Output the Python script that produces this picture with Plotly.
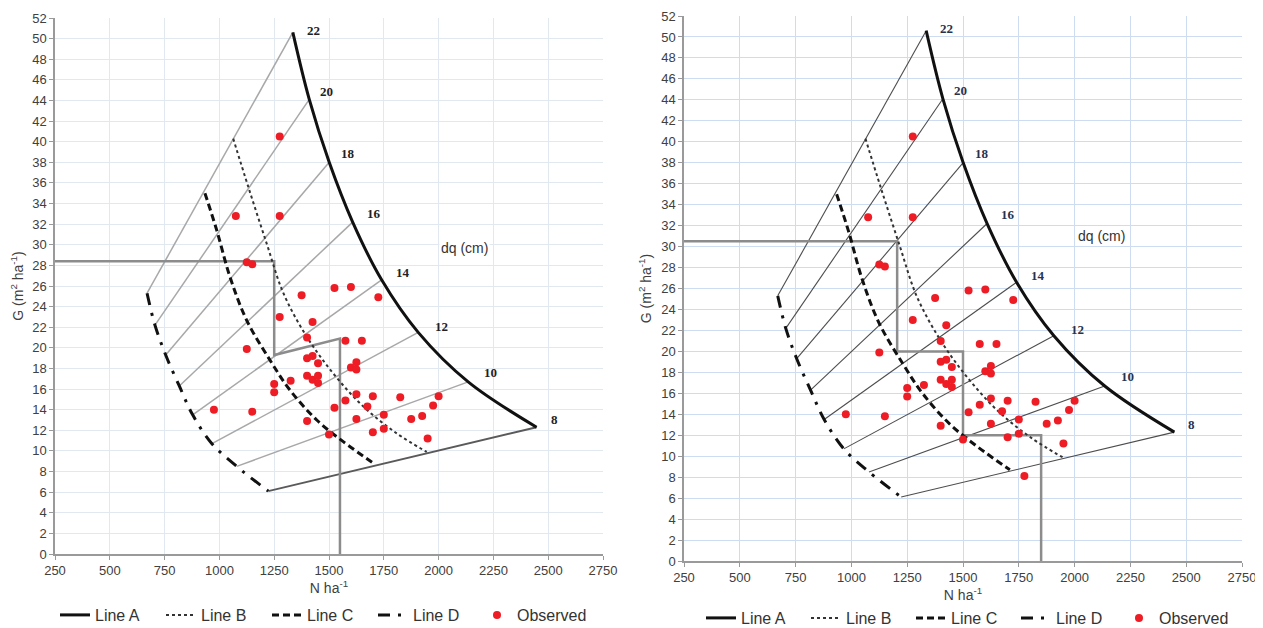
import plotly.graph_objects as go

# ---------------- data ----------------
dq_labels = ["22", "20", "18", "16", "14", "12", "10", "8"]

# Line A (upper limit curve) points at each dq isoline
lineA_N = [1335, 1410, 1501, 1608, 1740, 1907, 2135, 2447]
lineA_G = [50.6, 44.1, 38.0, 32.2, 26.6, 21.5, 16.7, 12.3]

# Line D (lower limit curve) points at each dq isoline
lineD_N = [670, 706, 755, 817, 878, 966, 1079, 1223]
lineD_G = [25.3, 22.2, 19.3, 16.3, 13.5, 10.7, 8.5, 6.1]

# Line B (dotted)
lineB_N = [1063, 1132, 1216, 1292, 1398, 1520, 1657, 1809, 1946]
lineB_G = [40.3, 35.6, 30.1, 25.3, 21.1, 17.5, 14.3, 11.7, 9.9]

# Line C (dashed)
lineC_N = [934, 988, 1048, 1124, 1231, 1322, 1444, 1565, 1710]
lineC_G = [35.0, 31.4, 26.9, 22.7, 18.8, 15.9, 13.0, 10.9, 8.7]

# Observed plots
obs_N = [1275, 1075, 1275, 1125, 1150, 1375, 1275, 1425, 1400, 1125,
         1400, 1425, 1450, 1400, 1325, 1250, 1250, 1425, 1450, 1450,
         975, 1150, 1400, 1575, 1650, 1625, 1600, 1625, 1625, 1700,
         1575, 1825, 2000, 1975, 1525, 1675, 1750, 1875, 1925, 1625,
         1750, 1700, 1500, 1950, 1525, 1600, 1725]
obs_G = [40.5, 32.8, 32.8, 28.3, 28.1, 25.1, 23.0, 22.5, 21.0, 19.9,
         19.0, 19.2, 18.5, 17.3, 16.8, 16.5, 15.7, 16.9, 17.3, 16.6,
         14.0, 13.8, 12.9, 20.7, 20.7, 18.6, 18.1, 17.9, 15.5, 15.3,
         14.9, 15.2, 15.3, 14.4, 14.2, 14.3, 13.5, 13.1, 13.4, 13.1,
         12.15, 11.8, 11.6, 11.2, 25.8, 25.9, 24.9]
extra_obs_N = [1775]   # only in right chart
extra_obs_G = [8.1]

# Management guides
guideL_N = [250, 1250, 1250, 1550, 1550]
guideL_G = [28.4, 28.4, 19.3, 20.9, 0]
guideR_N = [250, 1205, 1205, 1500, 1500, 1850, 1850]
guideR_G = [30.5, 30.5, 20.0, 20.0, 12.0, 12.0, 0]

# page body has an 8px margin -> draw a slightly smaller figure, offset positions
OFF = 8
W, H = 1263 - OFF, 628 - OFF


def fx(px):
    return (px - OFF) / W


def fy(py):
    return 1 - (py - OFF) / H


fig = go.Figure()


def iso_xy(idx):
    xs, ys = [], []
    for i in idx:
        xs += [lineD_N[i], lineA_N[i], None]
        ys += [lineD_G[i], lineA_G[i], None]
    return xs, ys


def add_panel(xa, ya, leg, leg_obs, iso_color, iso_w, bottom_color, bottom_w,
              guide_N, guide_G, pts_N, pts_G):
    xs, ys = iso_xy(range(len(dq_labels) - 1))
    fig.add_trace(go.Scatter(x=xs, y=ys, mode="lines", xaxis=xa, yaxis=ya,
                             line=dict(color=iso_color, width=iso_w),
                             showlegend=False, hoverinfo="skip"))
    xs, ys = iso_xy([len(dq_labels) - 1])
    fig.add_trace(go.Scatter(x=xs, y=ys, mode="lines", xaxis=xa, yaxis=ya,
                             line=dict(color=bottom_color, width=bottom_w),
                             showlegend=False, hoverinfo="skip"))
    fig.add_trace(go.Scatter(x=guide_N, y=guide_G, mode="lines", xaxis=xa, yaxis=ya,
                             line=dict(color="#8c8c8c", width=2.5),
                             showlegend=False, hoverinfo="skip"))
    fig.add_trace(go.Scatter(x=lineA_N, y=lineA_G, mode="lines", name="Line A",
                             xaxis=xa, yaxis=ya, legend=leg,
                             line=dict(color="#111111", width=3, shape="spline")))
    fig.add_trace(go.Scatter(x=lineB_N, y=lineB_G, mode="lines", name="Line B",
                             xaxis=xa, yaxis=ya, legend=leg,
                             line=dict(color="#333333", width=2, dash="dot", shape="spline")))
    fig.add_trace(go.Scatter(x=lineC_N, y=lineC_G, mode="lines", name="Line C",
                             xaxis=xa, yaxis=ya, legend=leg,
                             line=dict(color="#111111", width=3, dash="7px,4px", shape="spline")))
    fig.add_trace(go.Scatter(x=lineD_N, y=lineD_G, mode="lines", name="Line D",
                             xaxis=xa, yaxis=ya, legend=leg,
                             line=dict(color="#111111", width=3, dash="12px,8px,3px,8px",
                                       shape="spline")))
    fig.add_trace(go.Scatter(x=pts_N, y=pts_G, mode="markers", name="Observed",
                             xaxis=xa, yaxis=ya, legend=leg_obs,
                             marker=dict(color="#ee1c24", size=8)))


add_panel("x", "y", "legend", "legend3", "#a8a8a8", 1.5, "#5a5a5a", 2,
          guideL_N, guideL_G, obs_N, obs_G)
add_panel("x2", "y2", "legend2", "legend4", "#4d4d4d", 1.1, "#4d4d4d", 1.1,
          guideR_N, guideR_G, obs_N + extra_obs_N, obs_G + extra_obs_G)

# dq labels
shifts = [(12, 2), (9, 8), (10, 9), (12, 9), (12, 7), (15, 6), (14, 9), (12, 8)]
annotations = []
for xr, yr, col in (("x", "y", "#222222"), ("x2", "y2", "#26324f")):
    for i, lab in enumerate(dq_labels):
        annotations.append(dict(x=lineA_N[i], y=lineA_G[i], xref=xr, yref=yr,
                                text=lab, showarrow=False,
                                xanchor="left", yanchor="middle",
                                xshift=shifts[i][0], yshift=shifts[i][1],
                                font=dict(family="Liberation Serif", size=13, color=col,
                                          weight="bold")))
annotations.append(dict(x=2120, y=29.7, xref="x", yref="y", text="dq (cm)",
                        showarrow=False, bgcolor="white",
                        font=dict(family="Liberation Sans", size=14, color="#333333")))
annotations.append(dict(x=2121, y=31.0, xref="x2", yref="y2", text="dq (cm)",
                        showarrow=False, bgcolor="white",
                        font=dict(family="Liberation Sans", size=14, color="#333333")))

tickfont = dict(family="Liberation Sans", size=13, color="#404040")
titlefont = dict(family="Liberation Sans", size=14, color="#404040")


def xaxis(domain, grid, anchor):
    return dict(domain=domain, range=[250, 2750], dtick=250, tick0=250,
                showgrid=True, gridcolor=grid, gridwidth=1,
                showline=True, linecolor="#9a9a9a", linewidth=1.5,
                ticks="outside", ticklen=4, tickcolor="#9a9a9a",
                tickfont=tickfont, zeroline=False, anchor=anchor, automargin=False,
                title=dict(text="N ha<sup>-1</sup>", font=titlefont, standoff=6))


def yaxis(domain, grid, anchor):
    return dict(domain=domain, range=[0, 52], dtick=2,
                showgrid=True, gridcolor=grid, gridwidth=1,
                showline=True, linecolor="#9a9a9a", linewidth=1.5,
                ticks="outside", ticklen=4, tickcolor="#9a9a9a",
                tickfont=tickfont, zeroline=False, anchor=anchor, automargin=False,
                title=dict(text="G (m<sup>2</sup> ha<sup>-1</sup>)", font=titlefont, standoff=6))


legfont = dict(family="Liberation Sans", size=16, color="#333333")


def legend(xpx, ypx, ew=None):
    d = dict(orientation="h", x=fx(xpx), y=fy(ypx), yanchor="middle", xanchor="left",
             font=legfont, bgcolor="rgba(0,0,0,0)")
    if ew:
        d.update(entrywidth=ew, entrywidthmode="pixels")
    return d


fig.update_layout(
    width=W, height=H,
    margin=dict(l=0, r=0, t=0, b=0, autoexpand=False),
    paper_bgcolor="white", plot_bgcolor="white",
    xaxis=xaxis([fx(55), fx(603)], "#e2e8f0", "y"),
    yaxis=yaxis([fy(554), fy(18)], "#e2e8f0", "x"),
    xaxis2=xaxis([fx(684), fx(1242)], "#cddcf0", "y2"),
    yaxis2=yaxis([fy(561), fy(16)], "#cddcf0", "x2"),
    annotations=annotations,
    legend=legend(55, 615, 61),
    legend2=legend(701, 618, 60),
    legend3=legend(477, 615),
    legend4=legend(1119, 618),
    showlegend=True,
)

fig.write_html("out.html")
